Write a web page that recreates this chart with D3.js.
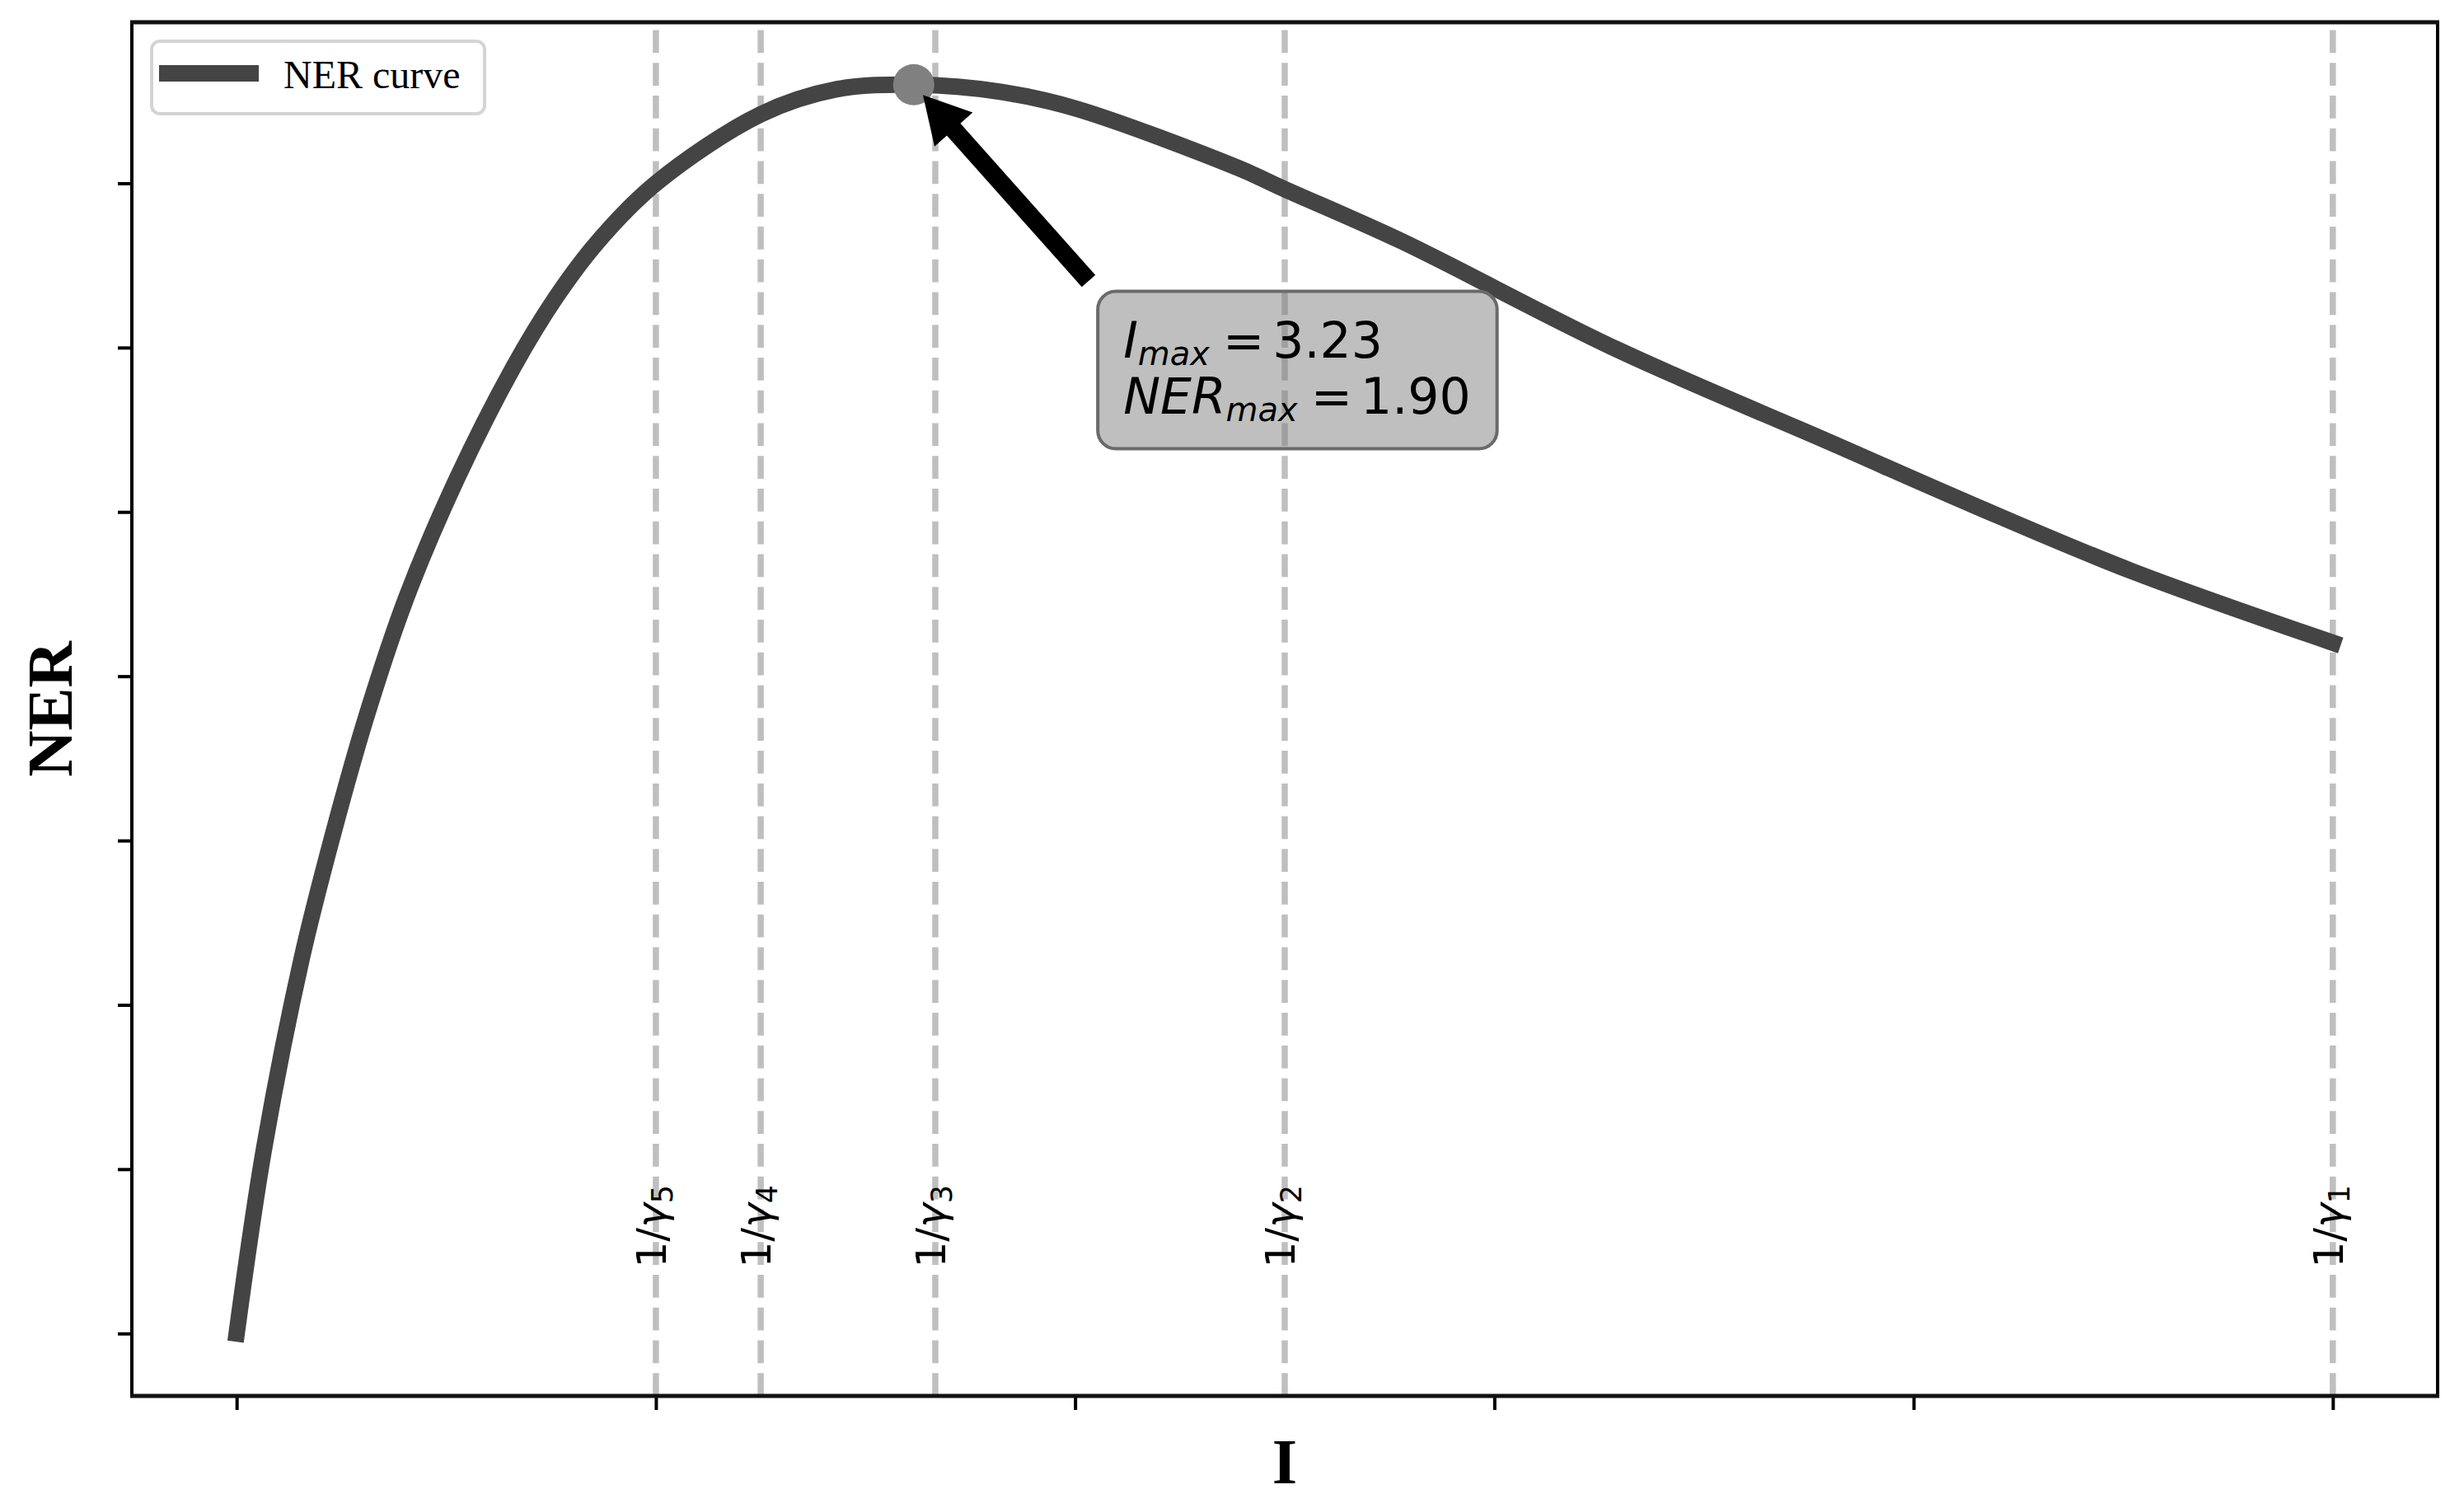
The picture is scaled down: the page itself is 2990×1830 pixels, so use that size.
<!DOCTYPE html>
<html>

<head>
    <meta charset="utf-8">
    <style>
        body {
            margin: 0;
            background: white;
        }

        svg {
            display: block;
        }

        .serif {
            font-family: 'Liberation Serif', 'Times New Roman', serif;
        }

        .math {
            font-family: 'DejaVu Sans', sans-serif;
        }
    </style>
</head>

<body>
    <svg width="2990" height="1830"></svg>
</body>

<script src="https://d3js.org/d3.v7.min.js"></script>

<script>
    // values
    let I_vals = [0, 0.13, 0.31, 0.46, 0.62, 0.81, 1.05, 1.32, 1.52, 1.72, 2.0, 2.5, 2.86, 3.23,
        3.65, 4.0, 4.78, 5.0, 5.55, 6.58, 7.60, 8.28, 9.04, 10.0]
    let NER_vals = [0, 0.28, 0.57, 0.76, 0.94, 1.12, 1.30, 1.47, 1.575, 1.66, 1.75, 1.855, 1.893, 1.90,
        1.889, 1.864, 1.773, 1.741, 1.663, 1.498, 1.356, 1.261, 1.16, 1.051]

    let peakI = 3.23
    let peakNER = 1.90
    let annotX = 4.23
    let annotY = 1.40

    let gammaIdx = ["1", "2", "3", "4", "5"]
    let gammaX = [10, 5, 3.333, 2.5, 2]
    let labelY = 0.1

    let xTicks = [0, 2, 4, 6, 8, 10]
    let yTicks = [0, 0.25, 0.5, 0.75, 1.0, 1.25, 1.5, 1.75]

    let axL = 160, axR = 2958, axT = 27, axB = 1694

    let svg = d3.select("body").select("svg")

    let x = d3.scaleLinear()
        .domain([-0.5, 10.5])
        .range([axL, axR])
    let y = d3.scaleLinear()
        .domain([-0.095, 1.995])
        .range([axB, axT])

    let points = I_vals.map((v, i) => [v, NER_vals[i]])

    // dashed 1/gamma lines
    svg.append("g")
        .selectAll("line")
        .data(gammaX)
        .join("line")
        .attr("x1", d => x(d))
        .attr("x2", d => x(d))
        .attr("y1", axB)
        .attr("y2", axT)
        .attr("stroke", "#808080")
        .attr("stroke-opacity", 0.5)
        .attr("stroke-width", 7.5)
        .attr("stroke-dasharray", "27.75 12")

    let labels = svg.append("g")
        .attr("class", "math")
        .selectAll("text")
        .data(gammaX)
        .join("text")
        .attr("transform", d => `translate(${x(d) + 12},${y(labelY)}) rotate(-90)`)
        .attr("font-size", 50)
        .attr("fill", "black")
    labels.append("tspan").text("1/")
    labels.append("tspan").attr("font-style", "italic").text("γ")
    labels.append("tspan")
        .attr("font-size", 35)
        .attr("dy", 8)
        .text((d, i) => gammaIdx[i])

    // NER curve
    let curveLine = d3.line()
        .x(d => x(d[0]))
        .y(d => y(d[1]))
        .curve(d3.curveCatmullRom.alpha(0.5))

    svg.append("path")
        .datum(points)
        .attr("d", curveLine)
        .attr("fill", "none")
        .attr("stroke", "#444444")
        .attr("stroke-width", 20)
        .attr("stroke-linecap", "square")

    svg.append("circle")
        .attr("cx", x(peakI))
        .attr("cy", y(peakNER))
        .attr("r", 25)
        .attr("fill", "#808080")

    // annotation text + box
    let tx = x(annotX), ty = y(annotY)
    let annot = svg.append("g").attr("class", "annot")
    let box = annot.append("rect")
    let txt = annot.append("text")
        .attr("class", "math")
        .attr("font-size", 60)
        .attr("fill", "black")

    function mathLine(sel, name, value) {
        sel.append("tspan").attr("font-style", "italic").text(name)
        sel.append("tspan").attr("font-style", "italic").attr("font-size", 40).attr("dy", 9).text("max")
        sel.append("tspan").attr("dy", -9).attr("dx", 16).text("=")
        sel.append("tspan").attr("dx", 10).text(value.toFixed(2))
    }
    mathLine(txt.append("tspan").attr("x", tx).attr("y", ty - 68), "I", peakI)
    mathLine(txt.append("tspan").attr("x", tx).attr("y", ty), "NER", peakNER)

    let bb = txt.node().getBBox()
    let bx = bb.x - 31, by = bb.y - 24
    let bw = bb.width + 63, bh = bb.height + 24 + 25
    box.attr("x", bx)
        .attr("y", by)
        .attr("width", bw)
        .attr("height", bh)
        .attr("rx", 22)
        .attr("fill", "#808080")
        .attr("fill-opacity", 0.5)
        .attr("stroke", "#6a6a6a")
        .attr("stroke-width", 4)

    // arrow from box corner to the peak, shrunk 5% at both ends
    let P = [x(peakI), y(peakNER)]
    let S = [bx, by]
    let ddx = P[0] - S[0], ddy = P[1] - S[1]
    let tip = [P[0] - 0.05 * ddx, P[1] - 0.05 * ddy]
    let tail = [S[0] + 0.05 * ddx, S[1] + 0.05 * ddy]
    let len = Math.hypot(tip[0] - tail[0], tip[1] - tail[1])
    let u = [(tip[0] - tail[0]) / len, (tip[1] - tail[1]) / len]
    let nv = [-u[1], u[0]]
    let hb = [tip[0] - u[0] * 56, tip[1] - u[1] * 56]
    let sw = 11, hw = 31
    let arrowPts = [
        [tail[0] + nv[0] * sw, tail[1] + nv[1] * sw],
        [hb[0] + nv[0] * sw, hb[1] + nv[1] * sw],
        [hb[0] + nv[0] * hw, hb[1] + nv[1] * hw],
        tip,
        [hb[0] - nv[0] * hw, hb[1] - nv[1] * hw],
        [hb[0] - nv[0] * sw, hb[1] - nv[1] * sw],
        [tail[0] - nv[0] * sw, tail[1] - nv[1] * sw]
    ]
    svg.insert("polygon", "g.annot")
        .attr("points", arrowPts.map(p => p.join(",")).join(" "))
        .attr("fill", "black")

    // legend
    let legend = svg.append("g")
    legend.append("rect")
        .attr("x", 184).attr("y", 50)
        .attr("width", 404).attr("height", 88)
        .attr("rx", 10)
        .attr("fill", "white")
        .attr("fill-opacity", 0.8)
        .attr("stroke", "#d4d4d4")
        .attr("stroke-width", 4)
    legend.append("line")
        .attr("x1", 193).attr("x2", 314)
        .attr("y1", 89).attr("y2", 89)
        .attr("stroke", "#444444")
        .attr("stroke-width", 20)
    legend.append("text")
        .attr("class", "serif")
        .attr("x", 344).attr("y", 107)
        .attr("font-size", 48)
        .text("NER curve")

    // axes (ticks without labels)
    svg.append("g")
        .attr("transform", `translate(0,${axB})`)
        .call(d3.axisBottom(x).tickValues(xTicks).tickFormat("").tickSize(17))
        .call(g => g.select(".domain").remove())
        .selectAll("line").attr("stroke", "black").attr("stroke-width", 4)

    svg.append("g")
        .attr("transform", `translate(${axL},0)`)
        .call(d3.axisLeft(y).tickValues(yTicks).tickFormat("").tickSize(17))
        .call(g => g.select(".domain").remove())
        .selectAll("line").attr("stroke", "black").attr("stroke-width", 4)

    // spines
    svg.append("rect")
        .attr("x", axL).attr("y", axT)
        .attr("width", axR - axL).attr("height", axB - axT)
        .attr("fill", "none")
        .attr("stroke", "black")
        .attr("stroke-width", 4)
    svg.append("line")
        .attr("x1", axL - 2).attr("x2", axR + 2)
        .attr("y1", axT).attr("y2", axT)
        .attr("stroke", "#111").attr("stroke-width", 5)
    svg.append("line")
        .attr("x1", axL - 2).attr("x2", axR + 2)
        .attr("y1", axB).attr("y2", axB)
        .attr("stroke", "#111").attr("stroke-width", 5)

    svg.append("text")
        .attr("class", "serif")
        .attr("x", (axL + axR) / 2)
        .attr("y", 1800)
        .attr("text-anchor", "middle")
        .attr("font-size", 78)
        .attr("font-weight", "bold")
        .text("I")

    svg.append("text")
        .attr("class", "serif")
        .attr("transform", `translate(87,${(axT + axB) / 2}) rotate(-90)`)
        .attr("text-anchor", "middle")
        .attr("font-size", 78)
        .attr("font-weight", "bold")
        .text("NER")
</script>

</html>
